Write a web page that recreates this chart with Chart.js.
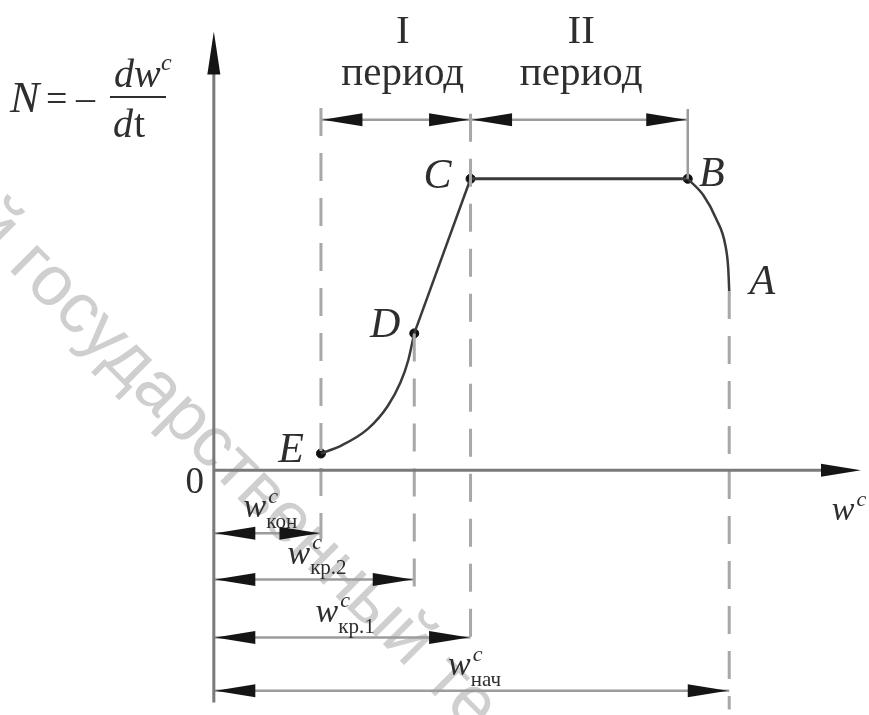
<!DOCTYPE html>
<html lang="ru">
<head>
<meta charset="utf-8">
<title>Кривая скорости сушки</title>
<script src="https://cdn.jsdelivr.net/npm/chart.js@4.4.1/dist/chart.umd.min.js"></script>
<style>
  html, body { margin: 0; padding: 0; background: #fff; }
  canvas { display: block; }
</style>
</head>
<body>
<canvas id="drying-chart" width="869" height="715"></canvas>
<script>
// Кривая скорости сушки N = -dw/dt в зависимости от влагосодержания w

// Влагосодержание: конечное, 2-е критическое, 1-е критическое, начальное
const moistureKeys = ['кон', 'кр.2', 'кр.1', 'нач'];
const moistureValues = [10.85, 20.3, 26.0, 52.2];

// Участок E–D (криволинейный)
const edMoisture = [10.85, 12.9, 15.6, 17.6, 18.9, 19.7, 20.3];
const edRate = [1.7, 2.5, 4.2, 6.5, 8.9, 11.2, 13.9];
// Участок D–C (прямолинейный)
const dcMoisture = [20.3, 26.0];
const dcRate = [13.9, 29.6];
// Участок C–B (постоянная скорость)
const cbMoisture = [26.0, 48.0];
const cbRate = [29.6, 29.6];
// Участок B–A (прогрев материала)
const baMoisture = [48.0, 49.6, 50.9, 51.8, 52.1, 52.2];
const baRate = [29.6, 27.9, 25.5, 22.9, 20.5, 18.2];

// Характерные точки
const pointNames = ['E', 'D', 'C', 'B', 'A'];
const pointMoisture = [10.85, 20.3, 26.0, 48.0, 52.2];
const pointRate = [1.7, 13.9, 29.6, 29.6, 18.2];

// Периоды сушки
const periodNames = ['I', 'II'];
const periodFrom = [10.85, 26.0];
const periodTo = [26.0, 48.0];

// --- layout (data units) ---
const X_MIN = -21.1, X_MAX = 65.8;
const Y_MIN = -24.3, Y_MAX = 47.2;
const Y_AXIS_TOP = 44.7, Y_AXIS_BOTTOM = -23.6;
const X_AXIS_END = 65.7;
const PERIOD_ROW = 35.6;
const DIM_ROWS = [-6.4, -11.1, -17.0, -22.4];
const DASH_TOPS = [36.8, 13.9, 36.2, 18.2];
const DASH_BOTTOMS = [-7.0, -11.8, -17.4, Y_MIN];

const SERIF = "'Liberation Serif', 'Times New Roman', serif";

function line(xs, ys, style) {
    return Object.assign({
        data: xs.map((x, i) => ({ x: x, y: ys[i] })),
        showLine: true,
        pointRadius: 0,
        pointHoverRadius: 0,
        fill: false,
        tension: 0,
        clip: false
    }, style);
}

const axisStyle = { borderColor: '#7a7a7a', borderWidth: 3 };
const dashStyle = { borderColor: '#a8a8a8', borderWidth: 3, borderDash: [28, 17] };
const dimStyle = { borderColor: '#9c9c9c', borderWidth: 2.5 };
const curveStyle = { borderColor: '#3a3a3a', borderWidth: 2.5 };

const datasets = [];

// axes
datasets.push(line([0, 0], [Y_AXIS_BOTTOM, Y_AXIS_TOP - 2], axisStyle));
datasets.push(line([0, X_AXIS_END - 2], [0, 0], axisStyle));

// dashed verticals at the characteristic moisture values
moistureValues.forEach((w, i) => {
    datasets.push(line([w, w], [DASH_TOPS[i], DASH_BOTTOMS[i]], dashStyle));
});
// solid tick above B
datasets.push(line([periodTo[1], periodTo[1]], [36.7, pointRate[3]], dimStyle));

// period arrows
periodFrom.forEach((w, i) => {
    datasets.push(line([w, periodTo[i]], [PERIOD_ROW, PERIOD_ROW], dimStyle));
});

// dimension arrows below the w axis
moistureValues.forEach((w, i) => {
    datasets.push(line([0, w], [DIM_ROWS[i], DIM_ROWS[i]], dimStyle));
});

// the drying-rate curve
datasets.push(line(edMoisture, edRate, Object.assign({ cubicInterpolationMode: 'monotone' }, curveStyle)));
datasets.push(line(dcMoisture, dcRate, curveStyle));
datasets.push(line(cbMoisture, cbRate, Object.assign({}, curveStyle, { borderWidth: 3 })));
datasets.push(line(baMoisture, baRate, Object.assign({ cubicInterpolationMode: 'monotone' }, curveStyle)));

// dots at E, D, C, B
datasets.push({
    data: pointMoisture.slice(0, 4).map((x, i) => ({ x: x, y: pointRate[i] })),
    showLine: false,
    pointStyle: 'circle',
    pointRadius: 4.5,
    pointHoverRadius: 4.5,
    backgroundColor: '#111',
    borderColor: '#111',
    pointBackgroundColor: '#111',
    pointBorderColor: '#111',
    pointBorderWidth: 1,
    clip: false
});

// arrowheads: tip position in data units + direction
const arrowHeads = [];
arrowHeads.push({ x: 0, y: Y_AXIS_TOP, dir: 'up' });
arrowHeads.push({ x: X_AXIS_END, y: 0, dir: 'right' });
periodFrom.forEach((w, i) => {
    arrowHeads.push({ x: w, y: PERIOD_ROW, dir: 'left' });
    arrowHeads.push({ x: periodTo[i], y: PERIOD_ROW, dir: 'right' });
});
moistureValues.forEach((w, i) => {
    arrowHeads.push({ x: 0, y: DIM_ROWS[i], dir: 'left' });
    arrowHeads.push({ x: w, y: DIM_ROWS[i], dir: 'right' });
});

// pixel offsets of the point letters
const pointLabelOffsets = {
    E: [-30, 8], D: [-29, 4], C: [-33, 9], B: [24, 7], A: [33, 3]
};

function drawHead(ctx, px, py, dir) {
    const angle = { right: 0, left: Math.PI, up: -Math.PI / 2 }[dir];
    const len = dir === 'up' ? 43 : 40;
    const half = 6.5;
    ctx.save();
    ctx.translate(px, py);
    ctx.rotate(angle);
    ctx.translate(-1.5, 0);
    ctx.beginPath();
    ctx.moveTo(0, 0);
    ctx.lineTo(-len, -half);
    ctx.lineTo(-len, half);
    ctx.closePath();
    ctx.fillStyle = '#151515';
    ctx.fill();
    ctx.restore();
}

// w with superscript c and optional subscript, centred at cx
function drawW(ctx, cx, baseline, sub, size) {
    const wFont = 'italic ' + size + 'px ' + SERIF;
    const supFont = 'italic ' + Math.round(size * 0.64) + 'px ' + SERIF;
    const subFont = Math.round(size * 0.62) + 'px ' + SERIF;
    ctx.font = wFont;
    const wW = ctx.measureText('w').width;
    ctx.font = supFont;
    const cW = ctx.measureText('c').width;
    ctx.font = subFont;
    const sW = sub ? ctx.measureText(sub).width : 0;
    const total = wW + Math.max(cW, sW);
    const x0 = cx - total / 2;
    ctx.textAlign = 'left';
    ctx.textBaseline = 'alphabetic';
    ctx.font = wFont;
    ctx.fillText('w', x0, baseline);
    ctx.font = supFont;
    ctx.fillText('c', x0 + wW + 2, baseline - size * 0.42);
    if (sub) {
        ctx.font = subFont;
        ctx.fillText(sub, x0 + wW, baseline + size * 0.32);
    }
}

const watermark = {
    id: 'watermark',
    beforeDatasetsDraw(chart) {
        const ctx = chart.ctx;
        ctx.save();
        ctx.font = "71px 'Liberation Sans', Arial, sans-serif";
        ctx.fillStyle = '#cfcfcf';
        ctx.textBaseline = 'alphabetic';
        ctx.translate(7, 268);
        ctx.rotate(Math.PI / 4);
        const pre = ctx.measureText('й ').width;
        ctx.fillText('й государственный те', -pre, 0);
        ctx.restore();
    }
};

const annotations = {
    id: 'annotations',
    afterDatasetsDraw(chart) {
        const ctx = chart.ctx;
        const xs = chart.scales.x;
        const ys = chart.scales.y;
        ctx.save();

        arrowHeads.forEach(a => {
            drawHead(ctx, xs.getPixelForValue(a.x), ys.getPixelForValue(a.y), a.dir);
        });

        ctx.fillStyle = '#2e2e2e';
        ctx.textBaseline = 'alphabetic';

        // point letters
        ctx.font = 'italic 42px ' + SERIF;
        ctx.textAlign = 'center';
        pointNames.forEach((name, i) => {
            const off = pointLabelOffsets[name];
            ctx.fillText(name,
                xs.getPixelForValue(pointMoisture[i]) + off[0],
                ys.getPixelForValue(pointRate[i]) + off[1]);
        });

        // period captions
        periodNames.forEach((name, i) => {
            const mid = xs.getPixelForValue((periodFrom[i] + periodTo[i]) / 2);
            const shift = i === 0 ? 7 : 2;
            ctx.font = '41px ' + SERIF;
            ctx.fillText(name, mid + shift, 43);
            ctx.fillText('период', mid + shift, 85);
        });

        // origin
        ctx.font = '37px ' + SERIF;
        ctx.fillText('0', xs.getPixelForValue(0) - 19, ys.getPixelForValue(0) + 23);

        // moisture labels over the dimension arrows
        moistureValues.forEach((w, i) => {
            const mid = (xs.getPixelForValue(0) + xs.getPixelForValue(w)) / 2;
            drawW(ctx, mid + 3, ys.getPixelForValue(DIM_ROWS[i]) - 16, moistureKeys[i], 34);
        });

        // w axis title
        drawW(ctx, 848, 520, null, 34);

        // N axis title: N = - dw^c / dt
        ctx.textAlign = 'left';
        ctx.font = 'italic 44px ' + SERIF;
        ctx.fillText('N', 10, 112);
        ctx.font = '38px ' + SERIF;
        ctx.fillText('=', 46, 111);
        ctx.fillText('–', 76, 110);
        ctx.fillRect(110, 96, 56, 2);
        ctx.font = 'italic 40px ' + SERIF;
        ctx.fillText('dw', 114, 87);
        ctx.font = 'italic 24px ' + SERIF;
        ctx.fillText('c', 161, 70);
        ctx.font = 'italic 40px ' + SERIF;
        ctx.fillText('d', 113, 137);
        ctx.font = '40px ' + SERIF;
        ctx.fillText('t', 134, 137);

        ctx.restore();
    }
};

new Chart(document.getElementById('drying-chart'), {
    type: 'scatter',
    data: { datasets: datasets },
    options: {
        responsive: false,
        animation: false,
        layout: { padding: 0 },
        plugins: {
            legend: { display: false },
            tooltip: { enabled: false }
        },
        scales: {
            x: { type: 'linear', min: X_MIN, max: X_MAX, display: false },
            y: { type: 'linear', min: Y_MIN, max: Y_MAX, display: false }
        }
    },
    plugins: [watermark, annotations]
});
</script>
</body>
</html>
